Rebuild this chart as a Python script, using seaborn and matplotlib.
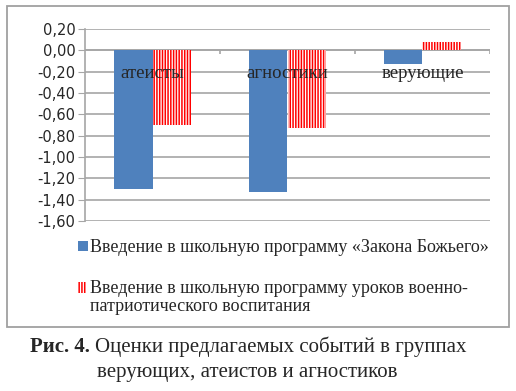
import matplotlib
matplotlib.use("Agg")
import matplotlib.pyplot as plt
import matplotlib.patches as mpatches
import seaborn as sns
import pandas as pd

categories = ["атеисты", "агностики", "верующие"]
series_names = ["Введение в школьную программу «Закона Божьего»",
                "Введение в школьную программу уроков военно-\nпатриотического воспитания"]
values_law = [-1.30, -1.33, -0.13]
values_patriot = [-0.70, -0.73, 0.08]
yticks = [0.20, 0.00, -0.20, -0.40, -0.60, -0.80, -1.00, -1.20, -1.40, -1.60]

df = pd.DataFrame({
    "cat": categories * 2,
    "series": [series_names[0]] * 3 + [series_names[1]] * 3,
    "val": values_law + values_patriot,
})

sns.set_style("white")
plt.rcParams["hatch.linewidth"] = 1.1
plt.rcParams["font.family"] = ["DejaVu Sans"]
serif = ["Liberation Serif", "DejaVu Serif"]

W, H = 516, 391
fig = plt.figure(figsize=(W/100, H/100), dpi=100)
ax = fig.add_axes([85/W, 1-221/H, 405/W, 192/H])

blue = "#4f81bd"
red = "#ff0000"
sns.barplot(data=df, x="cat", y="val", hue="series", hue_order=series_names,
            order=categories, palette=[blue, "white"], width=0.57, gap=0,
            ax=ax, legend=False, saturation=1)

n = len(categories)
for i, p in enumerate(ax.patches):
    if i >= n:
        p.set_facecolor("white")
        p.set_edgecolor(red)
        p.set_hatch("||||||")
        p.set_linewidth(0)
    else:
        p.set_linewidth(0)

ax.set_ylim(-1.6, 0.2)
ax.set_yticks(yticks)
ax.set_yticklabels([f"{t:.2f}".replace(".", ",") for t in yticks], fontsize=10.5)
ax.set_xlim(-0.5, n - 0.5)
ax.set_xticks([])
ax.set_xlabel("")
ax.set_ylabel("")
grid_c = "#a6a6a6"
ax.grid(axis="y", color=grid_c, linewidth=1.2)
ax.set_axisbelow(True)
for s in ["top", "right", "bottom"]:
    ax.spines[s].set_visible(False)
ax.spines["left"].set_color(grid_c)
ax.spines["left"].set_linewidth(1.2)
ax.tick_params(axis="y", length=5, color=grid_c, pad=2, direction="out", left=True)
ax.axhline(0, color=grid_c, linewidth=1.2, zorder=0.5)
for b in [0.5, 1.5, 2.5]:
    ax.plot([b, b], [0, -0.035], color=grid_c, linewidth=1.2, zorder=0.5,
            solid_capstyle="butt")

for i, c in enumerate(categories):
    ax.text(i, -0.215, c, ha="center", va="center", fontsize=13.5,
            family=serif, zorder=5)

# legend (drawn by hand so the marker aligns with the first text line)
fig.add_artist(mpatches.Rectangle((78/W, 1-251/H), 10/W, 10/H, transform=fig.transFigure,
                                  facecolor=blue, edgecolor="none"))
fig.add_artist(mpatches.Rectangle((78/W, 1-293/H), 8/W, 11/H, transform=fig.transFigure,
                                  facecolor="white", edgecolor=red, hatch="||||||", linewidth=0))
fig.text(90/W, 1-246/H, series_names[0], fontsize=13, family=serif,
         ha="left", va="center_baseline")
fig.text(90/W, 1-280/H, series_names[1], fontsize=13, family=serif,
         ha="left", va="top", linespacing=1.1)

# outer frame
fig.add_artist(mpatches.Rectangle((7/W, 1-327/H), 502/W, 321/H,
                                  transform=fig.transFigure, fill=False,
                                  edgecolor="#a0a0a0", linewidth=1.3))

# caption
fig.text(30/W, 1-352/H, "Рис. 4.", fontsize=15, fontweight="bold",
         family=serif, ha="left", va="baseline")
fig.text(95/W, 1-352/H, "Оценки предлагаемых событий в группах", fontsize=15,
         family=serif, ha="left", va="baseline")
fig.text(247/W, 1-377/H, "верующих, атеистов и агностиков", fontsize=15,
         family=serif, ha="center", va="baseline")

fig.savefig("out.png", dpi=100)
